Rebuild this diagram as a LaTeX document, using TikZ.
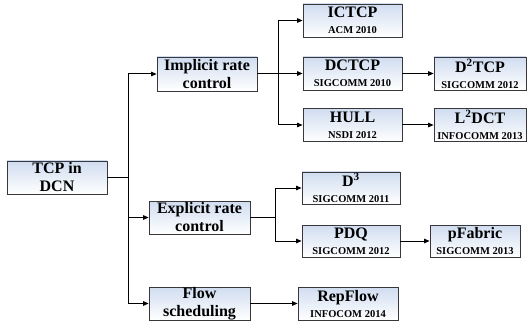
\documentclass[tikz,border=0pt]{standalone}
\usepackage{fontspec}
\setmainfont{Liberation Serif}
\usetikzlibrary{arrows.meta}
\definecolor{boxtop}{RGB}{208,221,240}
\definecolor{boxline}{RGB}{55,55,60}
\tikzset{
  box/.style={draw=boxline, line width=0.8pt, top color=boxtop, bottom color=white,
    inner sep=0pt, align=center, minimum height=33pt},
  catbox/.style={box, font=\bfseries\fontsize{16}{18}\selectfont},
  pubbox/.style={box, font=\bfseries\fontsize{10.5}{16}\selectfont},
  conn/.style={line width=1pt, black},
  arr/.style={conn, -{Triangle[length=5.5pt,width=4.5pt]}},
}
\newcommand{\ttl}[1]{{\fontsize{16}{16}\selectfont #1}}
\begin{document}
\begin{tikzpicture}[x=1pt,y=-1pt]
\useasboundingbox (0,0) rectangle (531,329);
\node[catbox, minimum width=100pt] (tcp) at (57,177.5) {TCP in\\DCN};
\node[catbox, minimum width=100pt, minimum height=34pt] (impl) at (207,74) {Implicit rate\\control};
\node[catbox, minimum width=101pt] (expl) at (199.5,217.5) {Explicit rate\\control};
\node[catbox, minimum width=101pt] (flow) at (199.5,303.5) {Flow\\scheduling};

\node[pubbox, minimum width=99pt] (ictcp) at (352.5,20.5) {\ttl{ICTCP}\\ACM 2010};
\node[pubbox, minimum width=99pt] (dctcp) at (352.5,73.5) {\ttl{DCTCP}\\SIGCOMM 2010};
\node[pubbox, minimum width=99pt] (hull) at (352.5,125) {\ttl{HULL}\\NSDI 2012};
\node[pubbox, minimum width=92pt] (d2tcp) at (480,73.5) {\ttl{D\textsuperscript{2}TCP}\\SIGCOMM 2012};
\node[pubbox, minimum width=92pt] (l2dct) at (480,125) {\ttl{L\textsuperscript{2}DCT}\\INFOCOMM 2013};
\node[pubbox, minimum width=98pt, minimum height=32pt] (d3) at (351,188) {\ttl{D\textsuperscript{3}}\\SIGCOMM 2011};
\node[pubbox, minimum width=98pt, minimum height=32pt] (pdq) at (351,241) {\ttl{PDQ}\\SIGCOMM 2012};
\node[pubbox, minimum width=90pt, minimum height=32pt] (pfabric) at (475,241) {\ttl{pFabric}\\SIGCOMM 2013};
\node[pubbox, minimum width=100pt] (repflow) at (348,303.5) {\ttl{RepFlow}\\INFOCOM 2014};

\coordinate (j0) at (128,177.5);
\coordinate (j1) at (278,74);
\coordinate (j2) at (275,217.5);

\draw[conn] (tcp.east) -- (j0);
\draw[arr] (j0) |- (impl.west);
\draw[arr] (j0) |- (expl.west);
\draw[arr] (j0) |- (flow.west);

\draw[conn] (impl.east) -- (j1);
\draw[arr] (j1) |- (ictcp.west);
\draw[arr] (j1) |- (dctcp.west);
\draw[arr] (j1) |- (hull.west);
\draw[arr] (dctcp.east) -- (d2tcp.west);
\draw[arr] (hull.east) -- (l2dct.west);

\draw[conn] (expl.east) -- (j2);
\draw[arr] (j2) |- (d3.west);
\draw[arr] (j2) |- (pdq.west);
\draw[arr] (pdq.east) -- (pfabric.west);

\draw[arr] (flow.east) -- (repflow.west);
\end{tikzpicture}
\end{document}
